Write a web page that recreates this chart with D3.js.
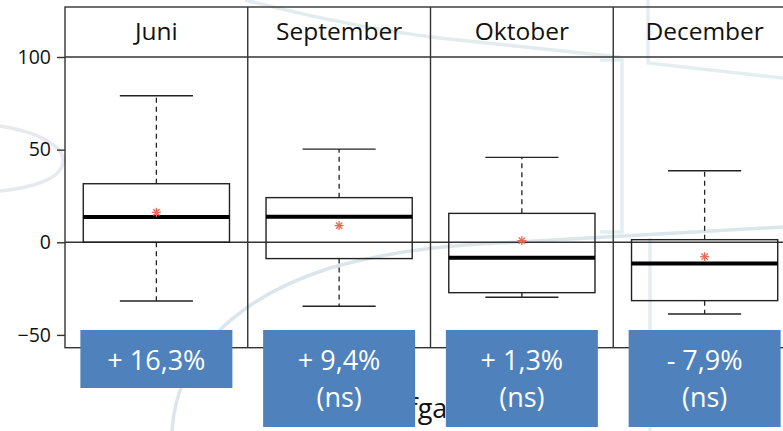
<!DOCTYPE html>
<html><head><meta charset="utf-8">
<script src="https://cdn.jsdelivr.net/npm/d3@7"></script>
<style>html,body{margin:0;padding:0;background:#fff;overflow:hidden}</style>
</head><body><svg id="c" width="783" height="431"></svg>
<script>
const months = ["Juni", "September", "Oktober", "December"];
const whiskerLow = [-31.7, -34.5, -29.7, -38.7];
const q1 = [0, -8.8, -27.2, -31.5];
const median = [13.6, 13.8, -8.3, -11.5];
const q3 = [31.6, 24.1, 15.6, 1.4];
const whiskerHigh = [79.1, 50.3, 45.8, 38.6];
const means = [16.2, 9.0, 0.9, -7.8];
const changeLabels = ["+ 16,3%", "+ 9,4%", "+ 1,3%", "- 7,9%"];
const sigLabels = ["", "(ns)", "(ns)", "(ns)"];
const yTicks = [-50, 0, 50, 100];
const xTitle = "Afgang";

const svg = d3.select("#c");
const frameTop = 7, stripBottom = 57, plotBottom = 347.7, left = 65, right = 796;

const x = d3.scaleBand().domain(months).range([left, right]).padding(0);
const y = d3.scaleLinear().domain([-56.9, 100]).range([plotBottom, stripBottom]);

// faint background decoration
const deco = svg.append("g").attr("fill", "none").attr("stroke-width", 3.5);
[
  ["M0,126 C40,132 66,148 63,163 C60,180 30,188 0,191", "#e8e9ee"],
  ["M172,431 C176,360 230,300 330,268 C380,254 430,246 500,243 C560,240 610,236 783,227", "#dbe6ea"],
  ["M245,0 C300,14 370,30 440,38 L620,57", "#e2ebee"],
  ["M600,60 L622,60 L622,232 L600,232", "#e4eef0"],
  ["M648,0 L648,63 L783,78", "#e4eef0"],
  ["M650,238 L650,431", "#e4eef0"]
].forEach(([d, c]) => deco.append("path").attr("d", d).attr("stroke", c));

const g = svg.append("g");
const stroke = "#333";

// strip header and panel frames
g.append("rect").attr("x", left).attr("y", frameTop).attr("width", right - left).attr("height", plotBottom - frameTop)
  .attr("fill", "none").attr("stroke", stroke).attr("stroke-width", 1.4);
g.append("line").attr("x1", left).attr("x2", right).attr("y1", stripBottom).attr("y2", stripBottom)
  .attr("stroke", stroke).attr("stroke-width", 1.4);
months.slice(1).forEach(m => {
  g.append("line").attr("x1", x(m)).attr("x2", x(m)).attr("y1", frameTop).attr("y2", plotBottom)
    .attr("stroke", stroke).attr("stroke-width", 1.4);
});
months.forEach(m => {
  g.append("text").attr("x", x(m) + x.bandwidth() / 2).attr("y", 40).attr("text-anchor", "middle")
    .attr("font-family", "Open Sans").attr("font-size", 24.5).attr("fill", "#111").text(m);
});

// zero reference line
g.append("line").attr("x1", left).attr("x2", right).attr("y1", y(0)).attr("y2", y(0))
  .attr("stroke", stroke).attr("stroke-width", 1.4);

// y axis
const yAxis = d3.axisLeft(y).tickValues(yTicks).tickSize(8).tickPadding(6)
  .tickFormat(d => d < 0 ? "\u2212" + Math.abs(d) : d);
const ya = g.append("g").attr("transform", `translate(${left},0)`).call(yAxis);
ya.select(".domain").remove();
ya.selectAll("line").attr("stroke", stroke).attr("stroke-width", 1.4);
ya.selectAll("text").attr("font-family", "Open Sans").attr("font-size", 19.5).attr("fill", "#111");

// x title (partly hidden behind labels)
svg.append("text").attr("x", 435).attr("y", 418).attr("text-anchor", "middle")
  .attr("font-family", "Open Sans").attr("font-size", 27).attr("fill", "#111").text(xTitle);

// boxes
const bw = x.bandwidth();
months.forEach((m, i) => {
  const cx = x(m) + bw / 2;
  const boxW = bw * 0.8, capW = bw * 0.4;
  const bg = g.append("g");
  bg.append("line").attr("x1", cx).attr("x2", cx).attr("y1", y(q3[i])).attr("y2", y(whiskerHigh[i]))
    .attr("stroke", "#222").attr("stroke-width", 1.3).attr("stroke-dasharray", "5,4");
  bg.append("line").attr("x1", cx).attr("x2", cx).attr("y1", y(q1[i])).attr("y2", y(whiskerLow[i]))
    .attr("stroke", "#222").attr("stroke-width", 1.3).attr("stroke-dasharray", "5,4");
  [whiskerHigh[i], whiskerLow[i]].forEach(v => {
    bg.append("line").attr("x1", cx - capW / 2).attr("x2", cx + capW / 2).attr("y1", y(v)).attr("y2", y(v))
      .attr("stroke", "#222").attr("stroke-width", 1.4);
  });
  bg.append("rect").attr("x", cx - boxW / 2).attr("y", y(q3[i])).attr("width", boxW)
    .attr("height", y(q1[i]) - y(q3[i])).attr("fill", "none").attr("stroke", "#222").attr("stroke-width", 1.4);
  bg.append("line").attr("x1", cx - boxW / 2).attr("x2", cx + boxW / 2).attr("y1", y(median[i])).attr("y2", y(median[i]))
    .attr("stroke", "#000").attr("stroke-width", 4);
  const r = 4.5, my = y(means[i]);
  const ast = bg.append("g").attr("stroke", "#ef6752").attr("stroke-width", 1.3);
  [0, 45, 90, 135].forEach(a => {
    const rad = a * Math.PI / 180;
    ast.append("line").attr("x1", cx - r * Math.cos(rad)).attr("x2", cx + r * Math.cos(rad))
      .attr("y1", my - r * Math.sin(rad)).attr("y2", my + r * Math.sin(rad));
  });
});

// blue annotation labels
months.forEach((m, i) => {
  const cx = x(m) + bw / 2;
  const lw = 152, top = 330;
  const h = sigLabels[i] ? 97 : 58;
  svg.append("rect").attr("x", cx - lw / 2).attr("y", top).attr("width", lw).attr("height", h).attr("fill", "#4f81bd");
  svg.append("text").attr("x", cx).attr("y", 370).attr("text-anchor", "middle")
    .attr("font-family", "Open Sans").attr("font-size", 27).attr("fill", "#fff").text(changeLabels[i]);
  if (sigLabels[i]) {
    svg.append("text").attr("x", cx).attr("y", 407).attr("text-anchor", "middle")
      .attr("font-family", "Open Sans").attr("font-size", 27).attr("fill", "#fff").text(sigLabels[i]);
  }
});
</script></body></html>
